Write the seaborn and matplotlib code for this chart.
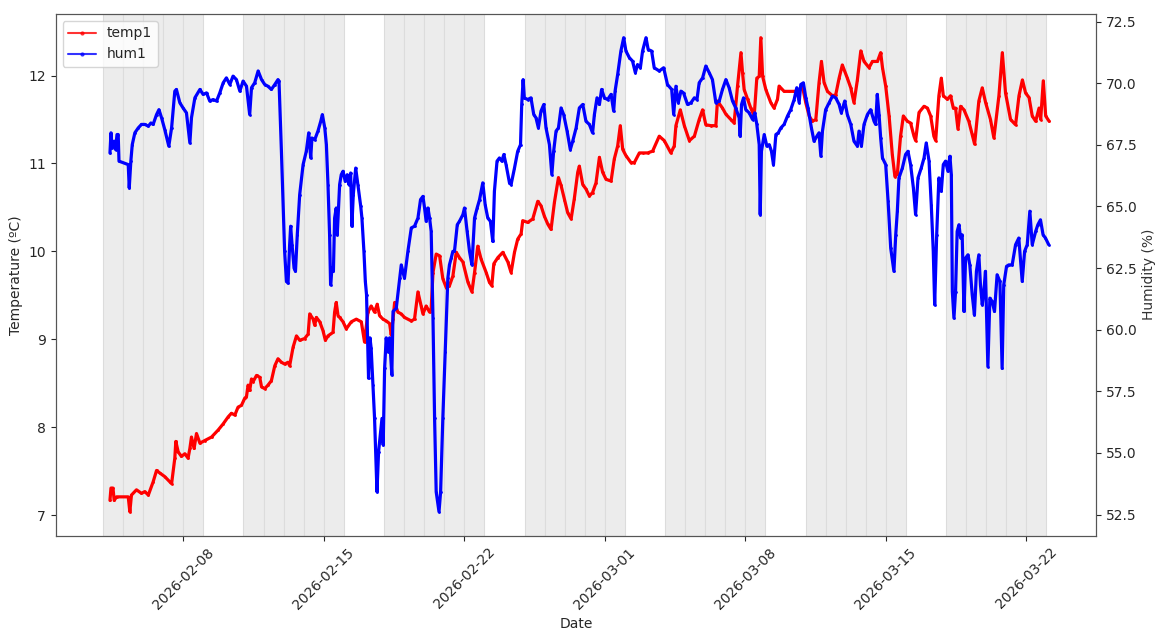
"""
temp1 / hum1 센서 로그 — 이중축 시계열 (2026-02-04 ~ 2026-03-23)
회색 음영은 5일 단위 구간(하루마다 경계선), 흰색은 2일 휴지 구간.
"""
import matplotlib

matplotlib.use("Agg")
import matplotlib.dates as mdates
import matplotlib.pyplot as plt
import pandas as pd
import seaborn as sns

START = pd.Timestamp("2026-02-04")

# 음영 구간 시작일 (각 5일)
SHADE_STARTS = ["2026-02-04", "2026-02-11", "2026-02-18", "2026-02-25",
                "2026-03-04", "2026-03-11", "2026-03-18"]
SHADE_DAYS = 5

# temp1 — START 기준 경과일, 값(°C)
temp_day = [
    0.35, 0.40, 0.50, 0.56, 0.68, 1.26, 1.34, 1.42, 1.67, 1.92, 2.09, 2.26, 2.50, 2.67, 2.84,
    3.08, 3.33, 3.42, 3.58, 3.63, 3.75, 3.91, 4.08, 4.24, 4.33, 4.41, 4.54, 4.66, 4.83, 5.07,
    5.41, 5.74, 5.99, 6.24, 6.40, 6.57, 6.73, 6.90, 7.06, 7.15, 7.23, 7.31, 7.40, 7.48, 7.65,
    7.81, 7.90, 8.06, 8.22, 8.39, 8.56, 8.72, 8.89, 9.05, 9.22, 9.30, 9.47, 9.64, 9.80, 10.05,
    10.22, 10.30, 10.47, 10.55, 10.63, 10.80, 10.96, 11.08, 11.21, 11.46, 11.54, 11.62, 11.71,
    11.79, 11.96, 12.12, 12.37, 12.62, 12.87, 13.03, 13.20, 13.36, 13.53, 13.66, 13.78, 13.95,
    14.11, 14.28, 14.36, 14.45, 14.53, 14.69, 14.86, 15.02, 15.36, 15.52, 15.69, 15.85, 15.94,
    16.10, 16.27, 16.35, 16.44, 16.60, 16.77, 16.93, 17.10, 17.26, 17.43, 17.60, 17.76, 17.93,
    18.18, 18.38, 18.51, 18.67, 18.84, 19.09, 19.25, 19.37, 19.47, 19.67, 19.92, 20.17, 20.33,
    20.50, 20.66, 20.83, 20.91, 21.16, 21.41, 21.66, 21.82, 21.99, 22.16, 22.32, 22.49, 22.69,
    22.82, 22.99, 23.15, 23.32, 23.48, 23.65, 23.73, 23.90, 24.06, 24.23, 24.39, 24.56, 24.73,
    24.89, 25.06, 25.31, 25.47, 25.64, 25.77, 25.89, 26.05, 26.30, 26.47, 26.72, 26.88, 27.13,
    27.38, 27.71, 27.96, 28.29, 28.46, 28.54, 28.76, 28.96, 29.21, 29.46, 29.70, 29.87, 30.03,
    30.28, 30.53, 30.61, 30.86, 31.03, 31.28, 31.44, 31.61, 31.78, 31.86, 31.94, 32.11, 32.27,
    32.44, 32.57, 32.69, 32.77, 32.86, 33.02, 33.27, 33.43, 33.60, 33.68, 33.93, 34.18, 34.43,
    34.68, 34.84, 35.01, 35.18, 35.34, 35.51, 35.67, 35.79, 35.92, 36.09, 36.34, 36.50, 36.67,
    36.83, 37.08, 37.25, 37.41, 37.58, 37.75, 37.91, 38.16, 38.33, 38.58, 38.74, 38.83, 38.99,
    39.16, 39.32, 39.45, 39.57, 39.73, 39.87, 40.07, 40.23, 40.40, 40.48, 40.65, 40.90, 41.07,
    41.23, 41.39, 41.48, 41.64, 41.76, 41.86, 42.06, 42.22, 42.36, 42.47, 42.59, 42.72, 42.89,
    43.13, 43.30, 43.42, 43.63, 43.80, 43.97, 44.21, 44.38, 44.63, 44.80, 44.96, 45.21, 45.46,
    45.63, 45.80, 45.96, 46.13, 46.29, 46.46, 46.63, 46.71, 46.84, 46.96, 47.13,
]
temp_c = [
    7.17, 7.31, 7.31, 7.17, 7.21, 7.21, 7.04, 7.23, 7.29, 7.25, 7.27, 7.23, 7.38, 7.51, 7.48,
    7.44, 7.38, 7.36, 7.65, 7.84, 7.72, 7.67, 7.70, 7.65, 7.76, 7.89, 7.76, 7.93, 7.82, 7.85,
    7.89, 7.97, 8.04, 8.12, 8.16, 8.14, 8.23, 8.25, 8.33, 8.35, 8.48, 8.42, 8.55, 8.52, 8.59,
    8.57, 8.46, 8.44, 8.48, 8.53, 8.70, 8.78, 8.74, 8.72, 8.74, 8.70, 8.91, 9.04, 8.99, 9.01,
    9.06, 9.29, 9.23, 9.16, 9.25, 9.20, 9.10, 8.99, 9.04, 9.08, 9.31, 9.42, 9.27,
    9.25, 9.20, 9.12, 9.20, 9.23, 9.20, 8.97, 9.31, 9.38, 9.31, 9.40, 9.27, 9.23,
    9.21, 9.18, 9.05, 9.23, 9.42, 9.31, 9.29, 9.25, 9.21, 9.23, 9.54, 9.38, 9.29,
    9.38, 9.31, 9.35, 9.76, 9.97, 9.95, 9.69, 9.59, 9.61, 9.72, 9.99, 9.93, 9.88,
    9.65, 9.54, 9.76, 10.06, 9.91, 9.76, 9.65, 9.61, 9.86, 9.93, 9.99, 9.88, 9.76,
    9.99, 10.14, 10.20, 10.35, 10.33, 10.37, 10.57, 10.52, 10.40, 10.31, 10.25, 10.56, 10.84,
    10.75, 10.59, 10.44, 10.37, 10.60, 10.90, 10.97, 10.76, 10.71, 10.63, 10.67, 10.78, 11.07,
    10.90, 10.82, 10.80, 11.05, 11.20, 11.43, 11.16, 11.09, 11.01, 11.01, 11.12, 11.12, 11.12,
    11.14, 11.31, 11.26, 11.12, 11.20, 11.43, 11.61, 11.43, 11.26, 11.31, 11.50, 11.61, 11.44,
    11.43, 11.43, 11.71, 11.63, 11.56, 11.50, 11.46, 11.88, 12.26, 12.03, 11.84, 11.73, 11.63,
    11.54, 11.97, 11.99, 12.43, 11.99, 11.84, 11.69, 11.63, 11.73, 11.88, 11.82, 11.82, 11.82,
    11.82, 11.88, 11.69, 11.54, 11.48, 11.50, 11.92, 12.16, 11.92, 11.82, 11.77, 11.78, 11.97,
    12.12, 11.97, 11.86, 11.69, 11.95, 12.28, 12.16, 12.09, 12.16, 12.16, 12.26, 12.09, 11.88,
    11.54, 11.10, 10.85, 10.88, 11.31, 11.54, 11.48, 11.46, 11.31, 11.26, 11.58, 11.65, 11.63,
    11.54, 11.31, 11.26, 11.77, 11.97, 11.77, 11.73, 11.77, 11.63, 11.63, 11.39, 11.65, 11.61,
    11.48, 11.33, 11.22, 11.71, 11.86, 11.69, 11.50, 11.29, 11.77, 12.26, 11.80, 11.50, 11.44,
    11.77, 11.95, 11.80, 11.75, 11.54, 11.48, 11.63, 11.50, 11.94, 11.54, 11.48,
]

# hum1 — START 기준 경과일, 값(%)
hum_day = [
    0.35, 0.40, 0.46, 0.56, 0.63, 0.70, 0.76, 0.80, 1.26, 1.31, 1.39, 1.46, 1.59, 1.76, 1.92,
    2.09, 2.26, 2.39, 2.50, 2.67, 2.79, 2.92, 3.08, 3.28, 3.42, 3.58, 3.66, 3.83, 3.99, 4.16,
    4.33, 4.41, 4.58, 4.83, 4.99, 5.16, 5.32, 5.49, 5.66, 5.82, 5.99, 6.15, 6.32, 6.48, 6.65,
    6.82, 6.98, 7.15, 7.31, 7.40, 7.56, 7.73, 7.90, 8.06, 8.22, 8.39, 8.56, 8.72, 8.77, 8.89,
    9.05, 9.14, 9.22, 9.30, 9.35, 9.42, 9.52, 9.59, 9.68, 9.80, 9.97, 10.13, 10.25, 10.35,
    10.41, 10.55, 10.71, 10.85, 10.93, 11.05, 11.13, 11.21, 11.29, 11.34, 11.41, 11.48, 11.54,
    11.62, 11.67, 11.79, 11.87, 11.96, 12.07, 12.17, 12.25, 12.34, 12.40, 12.47, 12.59, 12.70,
    12.84, 12.90, 13.00, 13.07, 13.13, 13.20, 13.23, 13.30, 13.36, 13.45, 13.53, 13.65, 13.73,
    13.83, 13.90, 13.96, 14.03, 14.11, 14.20, 14.28, 14.39, 14.45, 14.61, 14.78, 14.86, 15.02,
    15.19, 15.36, 15.52, 15.69, 15.82, 15.94, 16.02, 16.10, 16.19, 16.27, 16.35, 16.44, 16.52,
    16.60, 16.69, 16.74, 16.82, 16.93, 17.05, 17.18, 17.26, 17.35, 17.43, 17.51, 17.65, 17.76,
    17.93, 18.01, 18.14, 18.26, 18.38, 18.51, 18.64, 18.76, 18.92, 19.04, 19.17, 19.30, 19.42,
    19.50, 19.63, 19.75, 19.87, 19.97, 20.08, 20.25, 20.33, 20.50, 20.66, 20.80, 20.86, 20.93,
    20.99, 21.16, 21.32, 21.46, 21.57, 21.69, 21.82, 21.96, 22.07, 22.24, 22.36, 22.45, 22.57,
    22.69, 22.82, 22.95, 23.12, 23.28, 23.40, 23.57, 23.73, 23.90, 24.06, 24.23, 24.39, 24.48,
    24.61, 24.73, 24.84, 24.98, 25.14, 25.31, 25.44, 25.51, 25.64, 25.80, 25.94, 26.05, 26.22,
    26.38, 26.52, 26.63, 26.77, 26.88, 27.05, 27.16, 27.33, 27.46, 27.71, 27.93, 28.12, 28.33,
    28.43, 28.54, 28.66, 28.79, 28.92, 29.12, 29.29, 29.46, 29.59, 29.70, 29.87, 30.03, 30.20,
    30.36, 30.53, 30.70, 30.86, 31.03, 31.19, 31.36, 31.52, 31.69, 31.74, 31.81, 31.91, 32.02,
    32.19, 32.36, 32.47, 32.57, 32.69, 32.74, 32.80, 32.94, 33.07, 33.19, 33.30, 33.40, 33.52,
    33.64, 33.77, 33.93, 34.10, 34.26, 34.43, 34.56, 34.68, 34.76, 34.89, 35.01, 35.12, 35.29,
    35.42, 35.56, 35.67, 35.76, 35.84, 36.00, 36.17, 36.34, 36.50, 36.67, 36.78, 36.95, 37.08,
    37.25, 37.41, 37.58, 37.66, 37.78, 37.91, 38.08, 38.24, 38.41, 38.49, 38.57, 38.66, 38.74,
    38.83, 38.99, 39.11, 39.24, 39.40, 39.49, 39.57, 39.65, 39.82, 39.98, 40.10, 40.23, 40.37,
    40.48, 40.60, 40.76, 40.90, 41.01, 41.15, 41.26, 41.36, 41.43, 41.53, 41.64, 41.76, 41.86,
    41.97, 42.09, 42.19, 42.26, 42.31, 42.39, 42.47, 42.55, 42.64, 42.72, 42.80, 42.89, 42.97,
    43.09, 43.18, 43.30, 43.41, 43.51, 43.63, 43.71, 43.80, 43.88, 43.96, 44.08, 44.18, 44.29,
    44.41, 44.54, 44.68, 44.79, 44.87, 45.01, 45.12, 45.29, 45.46, 45.62, 45.79, 45.91, 46.04,
    46.17, 46.29, 46.46, 46.57, 46.70, 46.83, 46.95, 47.11,
]
hum_pct = [
    67.17, 67.99, 67.38, 67.65, 67.31, 67.92, 67.92, 66.84, 66.70, 65.75, 66.84, 67.51, 67.99, 68.19, 68.33,
    68.33, 68.26, 68.39, 68.33, 68.73, 68.93, 68.60, 68.12, 67.45, 68.19, 69.68, 69.75, 69.21, 69.00, 68.80,
    67.58, 68.60, 69.41, 69.75, 69.55, 69.61, 69.28, 69.34, 69.28, 69.61, 70.02, 70.22, 69.95, 70.29, 70.15,
    69.68, 70.09, 69.88, 68.73, 69.82, 70.02, 70.50, 70.15, 69.95, 69.88, 69.75, 69.95, 70.15, 70.09, 67.24,
    63.18, 61.96, 61.89, 63.45, 64.20, 63.45, 62.50, 62.37, 63.85, 65.48, 66.70, 67.24, 67.99, 66.97,
    67.78, 67.71, 68.06, 68.46, 68.73, 68.19, 67.51, 65.89, 63.85, 61.82, 62.50, 62.37, 64.53,
    64.94, 63.85, 65.89, 66.29, 66.43, 66.02, 66.29, 65.89, 66.36, 64.20, 65.48, 66.56, 65.89,
    65.01, 64.53, 63.18, 61.96, 61.42, 59.11, 58.03, 59.67, 59.25, 57.76, 56.40, 53.42, 55.05,
    55.86, 56.40, 55.32, 58.43, 59.67, 59.11, 59.67, 58.16, 60.74, 60.87, 62.09, 62.63, 62.09,
    63.18, 64.13, 64.20, 64.53, 65.28, 65.41, 64.94, 64.40, 64.94, 64.53, 63.99, 60.47, 56.40,
    53.42, 52.88, 52.61, 53.42, 56.40, 59.11, 62.09, 62.63, 62.91, 63.18, 63.18, 64.26, 64.40,
    64.67, 64.94, 63.99, 63.18, 62.63, 64.53, 64.94, 65.28, 65.96, 65.07, 64.53, 64.40, 63.58,
    65.62, 66.84, 66.97, 66.84, 67.11, 66.70, 65.96, 65.89, 66.56, 67.24, 67.51, 69.14, 70.15,
    69.41, 69.34, 69.41, 68.73, 68.60, 68.19, 68.87, 69.14, 68.19, 67.51, 66.29, 67.24, 68.06,
    68.19, 69.00, 68.73, 68.06, 67.31, 67.65, 68.19, 69.00, 69.14, 68.46, 68.33, 67.99, 68.73,
    69.41, 69.14, 69.75, 69.41, 69.34, 69.55, 68.87, 69.68, 70.36, 71.31, 71.85, 71.31, 71.04,
    70.90, 70.43, 70.76, 70.63, 71.31, 71.85, 71.37, 71.31, 70.63, 70.50, 70.63, 69.95, 69.75,
    68.73, 69.88, 69.21, 69.68, 69.61, 69.14, 69.21, 69.41, 69.34, 70.02, 70.22, 70.70, 70.43,
    70.15, 69.21, 69.28, 69.75, 70.15, 69.82, 69.28, 69.00, 68.60, 67.85, 69.14, 69.41, 68.93,
    68.80, 68.53, 68.80, 68.33, 67.51, 64.67, 67.24, 67.92, 67.45, 67.51, 67.24, 66.70, 67.92,
    67.99, 68.19, 68.33, 68.67, 68.93, 69.34, 69.82, 69.21, 69.95, 70.02, 69.41, 69.00, 68.19,
    67.65, 67.85, 67.99, 67.04, 68.06, 68.93, 69.21, 69.48, 69.41, 69.14, 68.80, 69.28, 68.73,
    68.33, 67.65, 67.45, 68.06, 67.45, 68.33, 68.73, 68.93, 68.46, 68.33, 69.55, 68.73, 67.78,
    66.97, 66.70, 65.21, 63.31, 62.37, 63.85, 64.81, 66.16, 66.56, 67.11, 67.24, 66.70, 65.75,
    64.67, 66.16, 66.56, 66.97, 67.58, 66.84, 65.07, 63.18, 61.01, 63.85, 66.16, 65.62, 66.70,
    66.84, 66.43, 67.04, 66.29, 61.55, 60.47, 61.55, 63.99, 64.26, 63.72, 63.85, 60.74, 62.91,
    63.04, 62.63, 61.42, 60.60, 62.37, 63.04, 61.82, 61.01, 61.55, 62.37, 58.50, 61.28, 61.15,
    60.74, 62.23, 61.96, 58.43, 61.82, 62.57, 62.63, 62.63, 63.45, 63.72, 61.96, 63.18, 63.45,
    64.81, 63.45, 63.99, 64.26, 64.46, 63.85, 63.72, 63.45,
]


def to_frame(days, values, name):
    return pd.DataFrame({
        "time": START + pd.to_timedelta(days, unit="D"),
        name: values,
    })


def shade_days(ax):
    """5일 음영 — 하루 단위로 그려서 날짜 경계선이 옅게 남는다."""
    for s in SHADE_STARTS:
        day0 = pd.Timestamp(s)
        for k in range(SHADE_DAYS):
            ax.axvspan(day0 + pd.Timedelta(days=k), day0 + pd.Timedelta(days=k + 1),
                       facecolor="#ececec", edgecolor="#dcdcdc", linewidth=0.8, zorder=0)


def main():
    sns.set_style("ticks")
    plt.rcParams["font.family"] = ["DejaVu Sans"]

    df_t = to_frame(temp_day, temp_c, "temp1")
    df_h = to_frame(hum_day, hum_pct, "hum1")

    fig = plt.figure(figsize=(11.59, 6.36), dpi=100)
    ax = fig.add_axes([0.048, 0.158, 0.898, 0.820])
    ax2 = ax.twinx()

    shade_days(ax)

    line_kw = dict(marker=".", markersize=4, markeredgewidth=0, linewidth=2.3)
    sns.lineplot(data=df_t, x="time", y="temp1", ax=ax, color="red", label="temp1", **line_kw)
    sns.lineplot(data=df_h, x="time", y="hum1", ax=ax2, color="blue", label="hum1", **line_kw)

    ax.set_ylabel("Temperature (ºC)", fontsize=10)
    ax2.set_ylabel("Humidity (%)", fontsize=10, color="#333333")
    ax.set_xlabel("Date", fontsize=10)

    ax.xaxis.set_major_locator(mdates.DayLocator(bymonthday=[1, 8, 15, 22, 29]))
    ax.xaxis.set_major_formatter(mdates.DateFormatter("%Y-%m-%d"))
    for lbl in ax.get_xticklabels():
        lbl.set_rotation(45)
    ax.tick_params(labelsize=10)
    ax2.tick_params(labelsize=10)

    for spine in list(ax.spines.values()) + list(ax2.spines.values()):
        spine.set_visible(True)
        spine.set_color("#555555")

    # 두 축 범례를 하나로
    h1, l1 = ax.get_legend_handles_labels()
    h2, l2 = ax2.get_legend_handles_labels()
    ax.get_legend().remove()
    leg = ax2.legend(h1 + h2, l1 + l2, loc="upper left", fontsize=10)
    for ln in leg.get_lines():
        ln.set_linewidth(1.5)
        ln.set_alpha(0.8)
        ln.set_markersize(6)

    fig.savefig("out.png", dpi=100)


if __name__ == "__main__":
    main()
